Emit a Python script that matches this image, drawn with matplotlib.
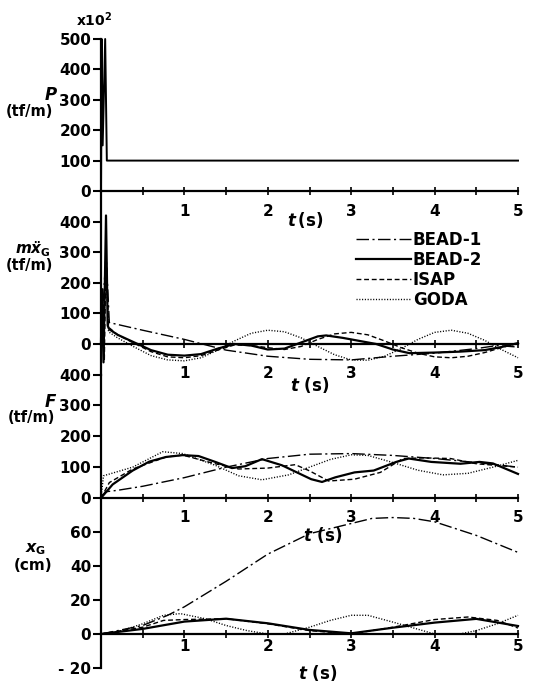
import numpy as np
import matplotlib
matplotlib.use("Agg")
import matplotlib.pyplot as plt
from matplotlib.lines import Line2D
from matplotlib.ticker import FixedLocator

plt.rcParams["font.family"] = ["DejaVu Sans"]
plt.rcParams["font.weight"] = "bold"
plt.rcParams["mathtext.fontset"] = "dejavusans"

# ---- data ----
# P (x10^2 tf/m)
p_t = [0.0, 0.008, 0.02, 0.05, 0.07, 5.0]
p_v = [0, 500, 150, 500, 100, 100]

# m*xG'' (tf/m)
acc_b1_t = [0.0, 0.03, 0.06, 0.1, 0.5, 1.0, 1.5, 2.0, 2.5, 3.0, 3.5, 4.0, 4.5, 4.75, 5.0]
acc_b1_v = [0, 150, 300, 70, 45, 15, -20, -40, -50, -52, -40, -30, -15, -5, -10]
acc_b2_t = [0.0, 0.01, 0.03, 0.06, 0.08, 0.1, 0.2, 0.4, 0.6, 0.8, 1.0, 1.2, 1.4, 1.6, 1.8,
            2.0, 2.2, 2.4, 2.6, 2.7, 2.9, 3.1, 3.3, 3.5, 3.7, 4.0, 4.3, 4.6, 4.8, 5.0]
acc_b2_v = [0, 180, -60, 420, 60, 48, 30, 5, -20, -35, -38, -33, -15, 0, -5,
            -18, -15, 5, 25, 28, 20, 10, 0, -18, -30, -28, -25, -20, -10, 3]
acc_is_t = [0.0, 0.02, 0.04, 0.06, 0.09, 0.2, 0.4, 0.6, 0.8, 1.0, 1.2, 1.4, 1.6, 1.8, 2.0,
            2.2, 2.4, 2.6, 2.8, 3.0, 3.2, 3.4, 3.6, 3.8, 4.0, 4.2, 4.4, 4.6, 4.8, 5.0]
acc_is_v = [0, 150, -50, 300, 55, 30, 2, -25, -42, -45, -38, -20, -3, -5, -12,
            -18, -8, 15, 33, 38, 30, 10, -12, -30, -42, -45, -40, -28, -12, 2]
acc_go_t = [0.0, 0.03, 0.06, 0.09, 0.2, 0.4, 0.6, 0.8, 1.0, 1.2, 1.4, 1.6, 1.8, 2.0, 2.2,
            2.4, 2.6, 2.8, 3.0, 3.2, 3.4, 3.6, 3.8, 4.0, 4.2, 4.4, 4.6, 4.8, 5.0]
acc_go_v = [0, 0, 250, 40, 20, -10, -38, -52, -55, -45, -20, 10, 35, 45, 40,
            20, -8, -35, -52, -53, -40, -15, 15, 38, 45, 35, 12, -18, -45]

# F (tf/m)
f_b1_t = [0.0, 0.05, 0.2, 0.5, 1.0, 1.5, 2.0, 2.5, 3.0, 3.5, 4.0, 4.5, 5.0]
f_b1_v = [0, 20, 25, 38, 66, 100, 128, 142, 144, 138, 128, 115, 100]
f_b2_t = [0.0, 0.14, 0.38, 0.58, 0.78, 0.98, 1.17, 1.37, 1.57, 1.73, 1.93, 2.17, 2.52,
          2.65, 2.81, 3.04, 3.27, 3.54, 3.69, 3.96, 4.31, 4.54, 4.7, 5.0]
f_b2_v = [0, 44, 89, 118, 133, 139, 136, 117, 97, 103, 126, 106, 61,
          52, 67, 83, 89, 117, 128, 117, 111, 117, 112, 78]
f_is_t = [0.0, 0.1, 0.38, 0.78, 0.98, 1.37, 1.65, 2.0, 2.33, 2.5, 2.73, 3.04, 3.35,
          3.62, 3.88, 4.19, 4.5, 5.0]
f_is_v = [0, 50, 94, 133, 139, 111, 94, 97, 108, 88, 55, 61, 83,
          128, 130, 128, 111, 100]
f_go_t = [0.0, 0.03, 0.38, 0.74, 0.98, 1.37, 1.65, 1.93, 2.25, 2.5, 2.75, 3.0, 3.2,
          3.5, 3.8, 4.1, 4.4, 4.7, 5.0]
f_go_v = [0, 72, 100, 150, 144, 106, 72, 59, 75, 100, 125, 140, 138,
          115, 90, 75, 80, 100, 122]

# xG (cm)
x_b1_t = [0.0, 0.5, 0.8, 1.0, 1.5, 2.0, 2.5, 3.0, 3.25, 3.5, 3.75, 4.0, 4.5, 5.0]
x_b1_v = [0, 5, 11, 16, 31, 47, 59, 65, 68, 68.5, 68, 66, 58, 48]
x_b2_t = [0.0, 0.5, 1.0, 1.5, 2.0, 2.5, 3.0, 3.5, 4.0, 4.5, 5.0]
x_b2_v = [0, 3, 7.3, 9, 6.3, 2.4, 0.4, 3.7, 6.7, 8.9, 4.7]
x_is_t = [0.0, 0.5, 0.75, 1.0, 1.5, 2.0, 2.5, 3.0, 3.5, 4.0, 4.4, 4.75, 5.0]
x_is_v = [0, 4, 8, 8.5, 9, 6, 2, 0, 4, 8.5, 10, 8, 3.5]
x_go_t = [0.0, 0.25, 0.5, 0.75, 0.95, 1.25, 1.5, 1.75, 2.0, 2.2, 2.5, 2.75, 3.0, 3.2,
          3.5, 3.75, 4.0, 4.3, 4.5, 4.75, 5.0]
x_go_v = [0, 2, 6, 11, 12, 9, 5, 2, 0, 0, 4, 8, 11, 11,
          7, 3.5, 0, 0, 2, 6, 11]

labels = ["BEAD-1", "BEAD-2", "ISAP", "GODA"]

# ---- styles ----
ST = {
    "BEAD-1": dict(color="black", lw=1.0, dashes=(9, 2.5, 1.5, 2.5)),
    "BEAD-2": dict(color="black", lw=1.6, linestyle="-"),
    "ISAP": dict(color="black", lw=1.0, dashes=(3.5, 2)),
    "GODA": dict(color="black", lw=1.0, dashes=(0.8, 1.2)),
}

W, H = 543, 682
fig = plt.figure(figsize=(W / 100, H / 100), dpi=100)


def fx(px):
    return px / W


def fy(py):
    return 1 - py / H


def make_ax(top_px, bot_px, ylo, yhi, yticks, yticklabels, xpad):
    ax = fig.add_axes([fx(101), fy(bot_px), fx(518) - fx(101), (bot_px - top_px) / H])
    ax.patch.set_alpha(0)
    ax.set_xlim(0, 5)
    ax.set_ylim(ylo, yhi)
    for s in ["top", "right"]:
        ax.spines[s].set_visible(False)
    ax.spines["left"].set_linewidth(1.6)
    ax.spines["bottom"].set_linewidth(1.6)
    ax.spines["bottom"].set_position(("data", 0))
    ax.xaxis.set_major_locator(FixedLocator([1, 2, 3, 4, 5]))
    ax.xaxis.set_minor_locator(FixedLocator([0.5, 1.5, 2.5, 3.5, 4.5]))
    ax.set_xticklabels(["1", "2", "3", "4", "5"])
    ax.tick_params(axis="x", which="both", direction="inout", length=6, width=1.2,
                   labelsize=11, pad=xpad)
    ax.set_yticks(yticks)
    ax.set_yticklabels(yticklabels)
    ax.tick_params(axis="y", direction="out", length=6, width=1.5, labelsize=11, pad=1)
    return ax


ax1 = make_ax(39, 191, 0, 500, [0, 100, 200, 300, 400, 500],
              ["0", "100", "200", "300", "400", "500"], 6)
ax2 = make_ax(191, 374.6, -100, 500, [0, 100, 200, 300, 400],
              ["0", "100", "200", "300", "400"], 12.5)
ax3 = make_ax(374.6, 498, 0, 400, [0, 100, 200, 300, 400],
              ["0", "100", "200", "300", "400"], 6)
ax4 = make_ax(498, 668, -20, 80, [-20, 0, 20, 40, 60],
              ["- 20", "0", "20", "40", "60"], 0.5)

ax1.plot(p_t, p_v, color="black", lw=1.4, clip_on=False)

series = [
    (ax2, [(acc_b1_t, acc_b1_v), (acc_b2_t, acc_b2_v), (acc_is_t, acc_is_v), (acc_go_t, acc_go_v)]),
    (ax3, [(f_b1_t, f_b1_v), (f_b2_t, f_b2_v), (f_is_t, f_is_v), (f_go_t, f_go_v)]),
    (ax4, [(x_b1_t, x_b1_v), (x_b2_t, x_b2_v), (x_is_t, x_is_v), (x_go_t, x_go_v)]),
]
for ax, data in series:
    for lab, (t, v) in zip(labels, data):
        ax.plot(t, v, clip_on=False, **ST[lab])

handles = [Line2D([], [], **ST[lab]) for lab in labels]
ax2.legend(handles, labels, loc="upper left", bbox_to_anchor=(fx(356), fy(231)),
           bbox_transform=fig.transFigure, frameon=False,
           prop=dict(size=12, weight="bold"),
           handlelength=3.3, handletextpad=0.1, labelspacing=0.12,
           borderpad=0, borderaxespad=0)

# axis titles
fig.text(fx(94), fy(20), r"x10$^2$", ha="center", va="center", fontsize=10)
fig.text(fx(51), fy(95), "P", ha="center", va="center", fontsize=12, style="italic")
fig.text(fx(29), fy(111), "(tf/m)", ha="center", va="center", fontsize=10.5)
fig.text(fx(33), fy(249), r"$m\ddot{x}_{\rm G}$", ha="center", va="center", fontsize=11)
fig.text(fx(29), fy(265), "(tf/m)", ha="center", va="center", fontsize=10.5)
fig.text(fx(50), fy(402), "F", ha="center", va="center", fontsize=12, style="italic")
fig.text(fx(31), fy(418), "(tf/m)", ha="center", va="center", fontsize=10.5)
fig.text(fx(36), fy(549), r"$x_{\rm G}$", ha="center", va="center", fontsize=11.5)
fig.text(fx(33), fy(566), "(cm)", ha="center", va="center", fontsize=11)

for (xp, yp, s) in [(305, 220, r"$t\,$(s)"), (310, 385, r"$t$ (s)"),
                    (323, 535, r"$t$ (s)"), (318, 673, r"$t$ (s)")]:
    fig.text(fx(xp), fy(yp), s, ha="center", va="center", fontsize=12)

fig.savefig("out.png", dpi=100)
